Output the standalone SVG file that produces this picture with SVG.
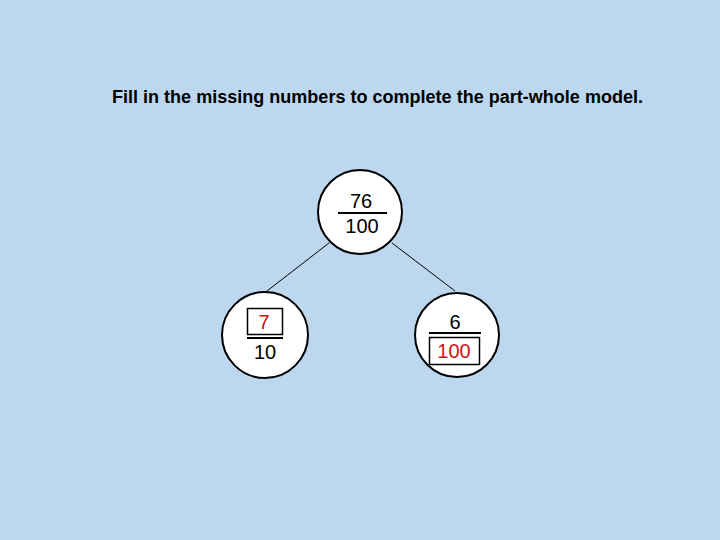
<svg xmlns="http://www.w3.org/2000/svg" width="720" height="540" viewBox="0 0 720 540">
<style>
.bg{fill:#BDD7EE}
.node{fill:#FFFFFF;stroke:#000000;stroke-width:2}
.num{font-family:"Liberation Sans",Arial,sans-serif;font-size:20px;text-anchor:middle;fill:#000000}
.red{fill:#D01010}
.bar{stroke:#000000;stroke-width:2}
.box{fill:none;stroke:#000000;stroke-width:1.5}
.conn{stroke:#000000;stroke-width:1;fill:none}
.title{font-family:"Liberation Sans",Arial,sans-serif;font-size:18px;font-weight:bold;fill:#000000}
</style>
<rect class="bg" x="0" y="0" width="720" height="540"/>
<text class="title" x="112" y="103" textLength="531" lengthAdjust="spacingAndGlyphs">Fill in the missing numbers to complete the part-whole model.</text>
<g id="connectors">
<line class="conn" x1="329" y1="243" x2="267" y2="291"/>
<line class="conn" x1="392" y1="243" x2="455" y2="291"/>
</g>
<g id="whole">
<circle class="node" cx="360" cy="212" r="42"/>
<text class="num" x="361" y="208">76</text>
<line class="bar" x1="338" y1="213" x2="387" y2="213"/>
<text class="num" x="362" y="233">100</text>
</g>
<g id="part-left">
<circle class="node" cx="265" cy="335" r="43"/>
<rect class="box" x="247.5" y="308.5" width="35" height="26"/>
<text class="num red" x="264" y="329">7</text>
<line class="bar" x1="247" y1="338" x2="283" y2="338"/>
<text class="num" x="265" y="359">10</text>
</g>
<g id="part-right">
<circle class="node" cx="457" cy="335" r="42"/>
<text class="num" x="455" y="329">6</text>
<line class="bar" x1="429" y1="333" x2="481" y2="333"/>
<rect class="box" x="429.5" y="337.5" width="50" height="27"/>
<text class="num red" x="454" y="358">100</text>
</g>
</svg>
